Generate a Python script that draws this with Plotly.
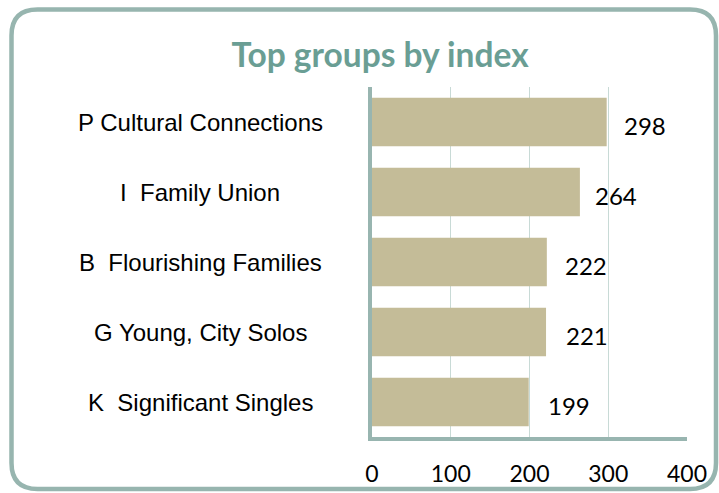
import plotly.graph_objects as go

categories = ["P Cultural Connections", "I  Family Union", "B  Flourishing Families",
              "G Young, City Solos", "K  Significant Singles"]
values = [298, 264, 222, 221, 199]
tick_vals = [0, 100, 200, 300, 400]
title_text = "Top groups by index"

W, H = 719, 493
L, R, T, B = 372, 32, 87, 56
pw, ph = W - L - R, H - T - B

def px(x):
    return (x - L) / pw

def py(y):
    return (H - B - y) / ph

fig = go.Figure()
fig.add_trace(go.Bar(
    x=values, y=categories, orientation="h",
    marker=dict(color="#c4bc98", line=dict(width=0)),
    hoverinfo="x+y",
))

# value labels
label_shift = [15, 13, 16, 18, 17]
for c, v, s in zip(categories, values, label_shift):
    fig.add_annotation(x=v, y=c, xref="x", yref="y", text=str(v), showarrow=False,
                       xanchor="left", xshift=s, yshift=-3,
                       font=dict(family="Lato", size=24, color="#000000"))

# category labels (centered)
for c in categories:
    fig.add_annotation(x=px(200), y=c, xref="paper", yref="y", text=c, showarrow=False,
                       xanchor="center", font=dict(family="Liberation Sans", size=24, color="#000000"))

# rounded border
x0, y0, x1, y1, r = 11.5, 9.5, 716, 489, 26
path = (f"M {px(x0+r)},{py(y0)} L {px(x1-r)},{py(y0)} Q {px(x1)},{py(y0)} {px(x1)},{py(y0+r)} "
        f"L {px(x1)},{py(y1-r)} Q {px(x1)},{py(y1)} {px(x1-r)},{py(y1)} "
        f"L {px(x0+r)},{py(y1)} Q {px(x0)},{py(y1)} {px(x0)},{py(y1-r)} "
        f"L {px(x0)},{py(y0+r)} Q {px(x0)},{py(y0)} {px(x0+r)},{py(y0)} Z")
fig.add_shape(type="path", path=path, xref="paper", yref="paper",
              line=dict(color="#97b5af", width=4.5), layer="below")

fig.update_layout(
    width=W, height=H,
    margin=dict(l=L, r=R, t=T, b=B, autoexpand=False),
    paper_bgcolor="white", plot_bgcolor="white",
    bargap=0.31,
    showlegend=False,
    title=dict(text=title_text, xref="container", x=380 / W, xanchor="center",
               yref="container", y=1 - 55 / H, yanchor="middle",
               font=dict(family="Lato", size=33.5, color="#6a9e94", weight="bold")),
    xaxis=dict(range=[0, 400], tickvals=tick_vals, showgrid=True, gridcolor="#c8dad6", gridwidth=1,
               showline=True, linecolor="#98b5b0", linewidth=4, zeroline=False,
               ticks="", ticklabelstandoff=13, automargin=False,
               tickfont=dict(family="Lato", size=23, color="#000000")),
    yaxis=dict(categoryorder="array", categoryarray=categories, autorange="reversed",
               showticklabels=False, showline=True, linecolor="#98b5b0", linewidth=4,
               showgrid=False, ticks="", automargin=False),
)

fig.write_html("out.html")
